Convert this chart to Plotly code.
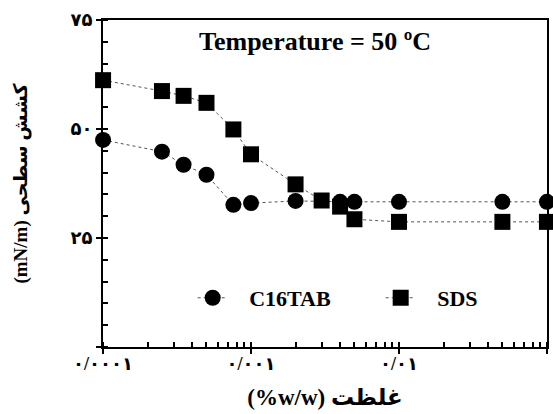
import plotly.graph_objects as go

# Data
sds_x = [0.0001, 0.00025, 0.00035, 0.0005, 0.00076, 0.001, 0.002, 0.003, 0.004, 0.005, 0.01, 0.05, 0.1]
sds_y = [61.2, 58.7, 57.6, 56.0, 49.9, 44.2, 37.3, 33.6, 32.2, 29.3, 28.7, 28.7, 28.7]
ctab_x = [0.0001, 0.00025, 0.00035, 0.0005, 0.00076, 0.001, 0.002, 0.004, 0.005, 0.01, 0.05, 0.1]
ctab_y = [47.5, 44.8, 41.8, 39.5, 32.6, 33.0, 33.5, 33.3, 33.3, 33.3, 33.3, 33.3]

x_tickvals = [0.0001, 0.001, 0.01, 0.1]
x_ticktext = ["۰/۰۰۰۱", "۰/۰۰۱", "۰/۰۱", "۰/۱"]
y_tickvals = [0, 25, 50, 75]
y_ticktext = ["", "۲۵", "۵۰", "۷۵"]

FONT = "Liberation Serif, 'Times New Roman', DejaVu Sans, serif"
NB = "\u00a0"

fig = go.Figure()
fig.add_trace(go.Scatter(
    x=ctab_x, y=ctab_y, name=NB * 3 + "C16TAB", mode="lines+markers",
    line=dict(color="#555555", width=1, dash="dot"),
    marker=dict(symbol="circle", size=16, color="black"),
    cliponaxis=False,
))
fig.add_trace(go.Scatter(
    x=sds_x, y=sds_y, name=NB * 3 + "SDS", mode="lines+markers",
    line=dict(color="#555555", width=1, dash="dot"),
    marker=dict(symbol="square", size=16, color="black"),
    cliponaxis=False,
))

fig.update_layout(
    width=553, height=414,
    margin=dict(l=103, r=6, t=20, b=67, autoexpand=False),
    paper_bgcolor="white", plot_bgcolor="white",
    font=dict(family=FONT, color="black", size=16, weight="bold"),
    showlegend=True,
    legend=dict(
        orientation="h", x=0.202, y=0.15, xanchor="left", yanchor="middle",
        font=dict(family=FONT, size=22, weight="bold"),
        bgcolor="rgba(0,0,0,0)", entrywidth=143, entrywidthmode="pixels",
    ),
)

fig.update_xaxes(
    type="log", range=[-4.0005, -0.9995], automargin=False,
    tickvals=x_tickvals, ticktext=x_ticktext,
    ticks="outside", ticklen=5, tickwidth=1.5, tickcolor="black",
    showline=True, linewidth=2, linecolor="black", mirror=True,
    showgrid=False, zeroline=False, ticklabelstandoff=-6,
    tickfont=dict(family=FONT, size=18, weight="bold"),
    minor=dict(ticks="inside", ticklen=5, tickwidth=1.5, tickcolor="black", dtick="D1", showgrid=False),
    title=dict(text="(%w/w) غلظت", font=dict(family=FONT, size=23, weight="bold"), standoff=16),
)
fig.update_yaxes(
    range=[0, 75], automargin=False,
    tickvals=y_tickvals, ticktext=y_ticktext,
    ticks="outside", ticklen=5, tickwidth=1.5, tickcolor="black",
    showline=True, linewidth=2, linecolor="black", mirror=True,
    showgrid=False, zeroline=False,
    tickfont=dict(family=FONT, size=18, weight="bold"),
    minor=dict(ticks="inside", ticklen=5, tickwidth=1.5, tickcolor="black", dtick=5, showgrid=False),
    title=dict(text="(mN/m) کشش سطحی", font=dict(family=FONT, size=19, weight="bold"), standoff=38),
)

fig.add_annotation(
    text="Temperature = 50 ºC", xref="paper", yref="paper", x=0.477, y=0.933,
    xanchor="center", yanchor="middle",
    showarrow=False, font=dict(family=FONT, size=26, weight="bold"),
)

fig.write_html(
    "out.html",
    config={"displayModeBar": False},
    post_script="document.documentElement.style.overflow='hidden';"
                "document.body.style.margin='0';document.body.style.overflow='hidden';",
)
